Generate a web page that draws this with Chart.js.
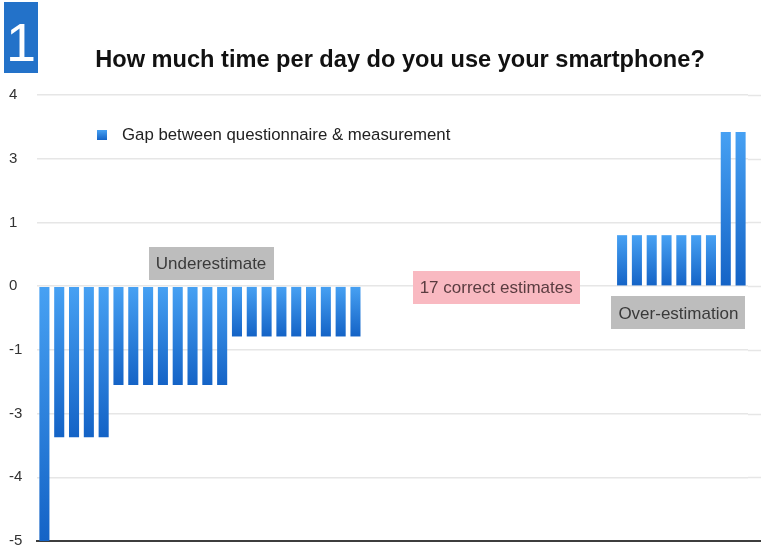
<!DOCTYPE html>
<html>
<head>
<meta charset="utf-8">
<script src="https://cdn.jsdelivr.net/npm/chart.js@4/dist/chart.umd.min.js"></script>
<style>
html,body{margin:0;padding:0;background:#fff;}
#wrap{position:relative;width:761px;height:548px;}
canvas{display:block;}
</style>
</head>
<body>
<div id="wrap"><canvas id="c" width="761" height="548"></canvas></div>
<script>
// Respondents (one bar each)
const categories = ["1","2","3","4","5","6","7","8","9","10","11","12","13","14","15","16",
  "17","18","19","20","21","22","23","24","25","26","27","28","29","30","31","32",
  "33","34","35","36","37","38","39","40","41","42","43","44","45","46","47","48"];

// Gap between questionnaire & measurement (position on the drawn axis)
const gapValues = [-4,
  -2.37,-2.37,-2.37,-2.37,
  -1.55,-1.55,-1.55,-1.55,-1.55,-1.55,-1.55,-1.55,
  -0.79,-0.79,-0.79,-0.79,-0.79,-0.79,-0.79,-0.79,-0.79,
  0,0,0,0,0,0,0,0,0,0,0,0,0,0,0,0,0,
  0.8,0.8,0.8,0.8,0.8,0.8,0.8,
  2.42,2.42];

const seriesName = "Gap between questionnaire & measurement";
const chartTitle = "How much time per day do you use your smartphone?";
const badgeText = "1";

// Axis tick positions and the labels printed on them
const tickValues = [-4,-3,-2,-1,0,1,2,3];
const tickLabels = ["-5","-4","-3","-1","0","1","3","4"];

// Annotation boxes: text, x (category index), y (axis value)
const noteTexts = ["Underestimate","17 correct estimates","Over-estimation"];
const noteX = [11.25, 30.5, 42.8];
const noteY = [0.36, -0.02, -0.42];
const noteFill = ["#bdbdbd","#f9b9c1","#bdbdbd"];
const noteInk = ["#3a3a3a","#5a3c40","#3a3a3a"];

const FONT = '"Liberation Sans", Arial, Helvetica, sans-serif';
const TOP_C = '#47a1f3', BOT_C = '#1463c6';

function barFill(c){
  const chart = c.chart;
  const {ctx, chartArea, scales} = chart;
  if (!chartArea || c.type !== 'data' || !scales.y) return '#2a80e0';
  const v = c.raw;
  const t = scales.y.getPixelForValue(Math.max(v,0));
  const b = scales.y.getPixelForValue(Math.min(v,0));
  if (b - t < 1) return '#2a80e0';
  const g = ctx.createLinearGradient(0,t,0,b);
  g.addColorStop(0, TOP_C); g.addColorStop(1, BOT_C);
  return g;
}

const decor = {
  id: 'decor',
  beforeDatasetsDraw(chart){
    const {ctx, chartArea, scales} = chart;
    const W = chart.width;
    ctx.save();
    ctx.strokeStyle = '#e6e6e6'; ctx.lineWidth = 1.5;
    tickValues.forEach(v => {
      if (v === -4) return;
      const y = Math.round(scales.y.getPixelForValue(v)) + 0.5;
      ctx.beginPath(); ctx.moveTo(chartArea.right, y); ctx.lineTo(W, y); ctx.stroke();
    });
    ctx.restore();
  },
  afterDraw(chart){
    const {ctx, chartArea, scales} = chart;
    const xs = scales.x, ys = scales.y;
    const step = xs.getPixelForValue(1) - xs.getPixelForValue(0);
    const px = i => xs.getPixelForValue(Math.floor(i)) + (i - Math.floor(i)) * step;
    ctx.save();
    ctx.strokeStyle = '#3d3d3d'; ctx.lineWidth = 2;
    const yb = ys.getPixelForValue(-4);
    ctx.beginPath(); ctx.moveTo(chartArea.right - 1, yb); ctx.lineTo(chart.width, yb); ctx.stroke();

    // badge
    ctx.fillStyle = '#2372c9';
    ctx.fillRect(4, 2, 34, 71);
    ctx.fillStyle = '#ffffff';
    ctx.font = '300 54px ' + FONT;
    ctx.textAlign = 'center'; ctx.textBaseline = 'alphabetic';
    ctx.fillText(badgeText, 21, 61);

    // title
    ctx.fillStyle = '#111111';
    ctx.font = 'bold 23.6px ' + FONT;
    ctx.textAlign = 'center';
    ctx.fillText(chartTitle, 400, 67);

    // legend
    const lx = chartArea.left + 60, ly = chartArea.top + 35;
    const g = ctx.createLinearGradient(0, ly, 0, ly + 10);
    g.addColorStop(0, TOP_C); g.addColorStop(1, BOT_C);
    ctx.fillStyle = g;
    ctx.fillRect(lx, ly, 10, 10);
    ctx.fillStyle = '#222222';
    ctx.font = '16.8px ' + FONT;
    ctx.textAlign = 'left'; ctx.textBaseline = 'middle';
    ctx.fillText(chart.data.datasets[0].label, lx + 25, ly + 5);

    // annotation boxes
    ctx.font = '17px ' + FONT;
    noteTexts.forEach((t, i) => {
      const cx = px(noteX[i]), cy = ys.getPixelForValue(noteY[i]);
      const w = ctx.measureText(t).width + 14, h = 33;
      ctx.fillStyle = noteFill[i];
      ctx.fillRect(Math.round(cx - w/2), Math.round(cy - h/2), Math.round(w), h);
      ctx.fillStyle = noteInk[i];
      ctx.textAlign = 'center'; ctx.textBaseline = 'middle';
      ctx.fillText(t, cx, cy + 1);
    });
    ctx.restore();
  }
};

new Chart(document.getElementById('c'), {
  type: 'bar',
  data: {
    labels: categories,
    datasets: [{
      label: seriesName,
      data: gapValues,
      backgroundColor: barFill,
      borderWidth: 0,
      categoryPercentage: 1,
      barPercentage: 0.68
    }]
  },
  options: {
    responsive: false,
    animation: false,
    devicePixelRatio: 1,
    layout: { padding: { left: 9, right: 13, top: 95, bottom: 7 } },
    plugins: { legend: { display: false }, title: { display: false }, tooltip: { enabled: false } },
    scales: {
      x: {
        afterFit(s){ s.height = 0; s.paddingLeft = 0; s.paddingRight = 0; },
        grid: { display: false, drawTicks: false },
        ticks: { display: false },
        border: { display: true, color: '#3d3d3d', width: 2 }
      },
      y: {
        min: -4, max: 3,
        afterFit(s){ s.width = 28; s.paddingTop = 0; s.paddingBottom = 0; },
        grid: { color: '#e6e6e6', lineWidth: 1.5, drawTicks: false },
        border: { display: false },
        ticks: {
          stepSize: 1,
          padding: 17,
          crossAlign: 'far',
          color: '#333333',
          font: { family: FONT, size: 15 },
          callback: (v) => { const i = tickValues.indexOf(v); return i >= 0 ? tickLabels[i] : ''; }
        }
      }
    }
  },
  plugins: [decor]
});
</script>
</body>
</html>
